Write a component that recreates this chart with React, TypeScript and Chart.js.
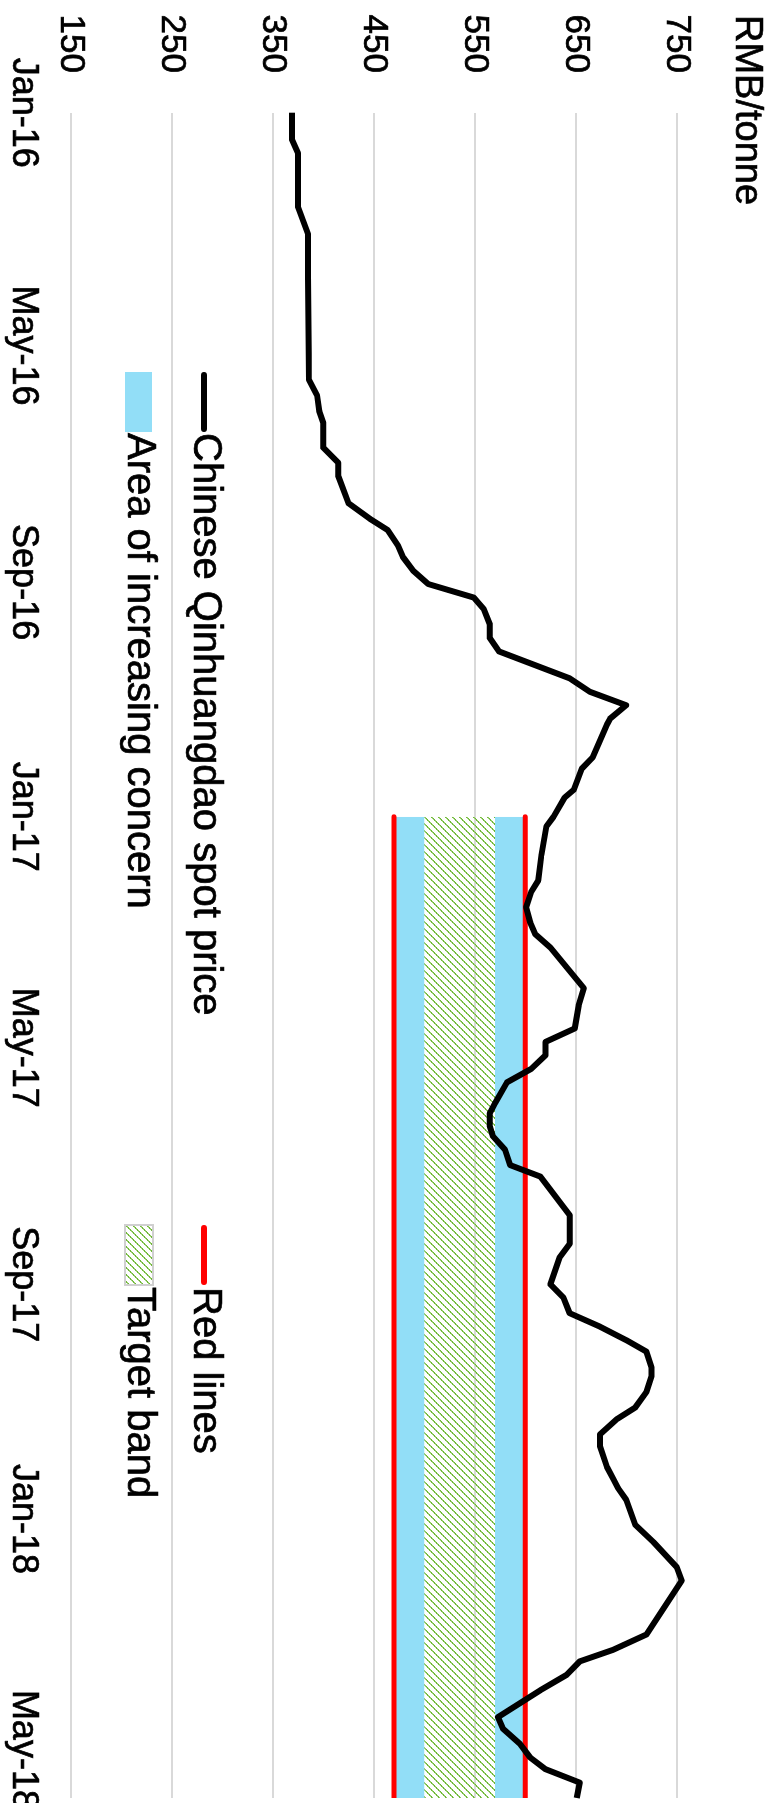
import React, { useEffect, useRef } from 'react';
import { Chart, registerables } from 'chart.js';

Chart.register(...registerables);

const FONT = '"Liberation Sans", Arial, Helvetica, sans-serif';

// x values are days since 1 Jan 2016
const priceDays = [
  0, 14, 21, 49, 63, 85, 139, 147, 155, 161, 174, 182, 189, 203, 211, 217, 225, 231, 238, 245,
  252, 258, 266, 273, 280, 294, 301, 308, 315, 318, 335, 341, 352, 356, 366, 371, 386, 399, 405, 413,
  421, 427, 434, 455, 464, 476, 483, 490, 497, 504, 515, 520, 527, 532, 539, 547, 553, 573, 588, 595,
  609, 616, 624, 631, 638, 644, 652, 657, 665, 673, 679, 687, 693, 704, 710, 715, 721, 734, 743, 756,
  763, 791, 799, 805, 812, 820, 834, 840, 848, 855, 861, 868, 876,
];
const spotPrice = [
  369, 369, 375, 375, 385, 385, 386, 394, 396, 400, 400, 415, 415, 425, 446, 464, 474, 479, 489, 504,
  549, 559, 565, 565, 574, 644, 664, 700, 684, 681, 667, 656, 648, 639, 628, 621, 616, 613, 606, 601,
  605, 610, 625, 658, 653, 649, 620, 620, 606, 582, 570, 565, 565, 568, 580, 585, 615, 644, 644, 634,
  625, 638, 644, 674, 700, 720, 725, 725, 720, 709, 691, 674, 674, 681, 687, 692, 700, 709, 727, 750,
  755, 720, 687, 654, 641, 615, 573, 578, 595, 605, 620, 654, 651,
];

const tickDays = [0, 121, 244, 366, 486, 609, 731, 851];
const tickLabels = ['Jan-16', 'May-16', 'Sep-16', 'Jan-17', 'May-17', 'Sep-17', 'Jan-18', 'May-18'];
const axisStartDay = 0;
const axisEndDay = 876;

const bandDays = [366, 876];
const redLineLow = 470;
const redLineHigh = 600;
const targetLow = 500;
const targetHigh = 570;

const valueMin = 150;
const valueMax = 750;
const valueStep = 100;

const seriesNames = [
  'Chinese Qinhuangdao spot price',
  'Red lines',
  'Area of increasing concern',
  'Target band',
];
const unitLabel = 'RMB/tonne';

const CW = 1860;
const CH = 777;

const BLUE = '#92DEF7';
const RED = '#FF0000';
const TEXT_STROKE = 0.7;

function makeHatch(): CanvasPattern | string {
  const n = 7;
  const tile = document.createElement('canvas');
  tile.width = n;
  tile.height = n;
  const t = tile.getContext('2d');
  if (!t) return '#9BD064';
  for (let i = 0; i < n; i++) {
    t.fillStyle = i % 2 === 0 ? '#6CB433' : '#8FCB5E';
    t.fillRect(i, n - 1 - i, 1, 1);
    t.fillStyle = i % 2 === 0 ? '#9AD170' : '#72B83C';
    t.fillRect(i, (n - i) % n, 1, 1);
  }
  const p = t.createPattern(tile, 'repeat');
  return p || '#9BD064';
}

export default function App() {
  const ref = useRef<HTMLCanvasElement>(null);

  useEffect(() => {
    if (!ref.current) return;
    const hatch = makeHatch();
    const pts = (ys: number[] | number, xs: number[]) =>
      xs.map((x, i) => ({ x, y: Array.isArray(ys) ? ys[i] : ys }));

    const label = (ctx: CanvasRenderingContext2D, s: string, x: number, y: number) => {
      ctx.fillText(s, x, y);
      ctx.strokeText(s, x, y);
    };

    const overlay = {
      id: 'overlay',
      afterDraw(chart: any) {
        const ctx = chart.ctx as CanvasRenderingContext2D;
        ctx.save();
        ctx.fillStyle = '#000';
        ctx.textAlign = 'left';
        ctx.textBaseline = 'alphabetic';
        ctx.font = `38px ${FONT}`;
        ctx.strokeStyle = '#000';
        ctx.lineWidth = TEXT_STROKE;
        label(ctx, unitLabel, 15, 41);

        ctx.font = `40px ${FONT}`;
        ctx.textBaseline = 'middle';
        const col1 = 372;
        const col2 = 1225;
        const row1 = 572;
        const row2 = 638;
        // line items
        ctx.lineCap = 'round';
        ctx.lineWidth = 6;
        ctx.strokeStyle = '#000';
        ctx.beginPath();
        ctx.moveTo(col1 + 3, row1 + 1);
        ctx.lineTo(col1 + 57, row1 + 1);
        ctx.stroke();
        ctx.strokeStyle = RED;
        ctx.beginPath();
        ctx.moveTo(col2 + 3, row1 + 1);
        ctx.lineTo(col2 + 57, row1 + 1);
        ctx.stroke();
        // box items
        ctx.fillStyle = BLUE;
        ctx.fillRect(col1, row2 - 13, 60, 27);
        ctx.fillStyle = hatch as any;
        ctx.fillRect(col2, row2 - 14, 60, 28);
        ctx.strokeStyle = '#D0D0D0';
        ctx.lineWidth = 2;
        ctx.strokeRect(col2, row2 - 14, 60, 28);
        // texts
        ctx.fillStyle = '#000';
        ctx.strokeStyle = '#000';
        ctx.lineWidth = TEXT_STROKE;
        label(ctx, seriesNames[0], col1 + 61, row1);
        label(ctx, seriesNames[1], col2 + 62, row1);
        label(ctx, seriesNames[2], col1 + 61, row2);
        label(ctx, seriesNames[3], col2 + 62, row2);
        ctx.restore();
      },
    };

    const chart = new Chart(ref.current, {
      type: 'line',
      data: {
        datasets: [
          {
            label: seriesNames[0],
            data: pts(spotPrice, priceDays),
            borderColor: '#000',
            borderWidth: 6,
            borderJoinStyle: 'round',
            pointRadius: 0,
            fill: false,
            clip: false,
          },
          {
            label: seriesNames[1],
            data: pts(redLineLow, bandDays),
            borderColor: RED,
            borderWidth: 5,
            borderCapStyle: 'round',
            pointRadius: 0,
            fill: false,
          },
          {
            label: seriesNames[1] + ' high',
            data: pts(redLineHigh, bandDays),
            borderColor: RED,
            borderWidth: 5,
            borderCapStyle: 'round',
            pointRadius: 0,
            fill: false,
          },
          {
            label: 'base',
            data: pts(redLineLow, bandDays),
            borderWidth: 0,
            borderColor: 'rgba(0,0,0,0)',
            pointRadius: 0,
            fill: false,
          },
          {
            label: seriesNames[2] + ' low',
            data: pts(targetLow, bandDays),
            borderWidth: 0,
            borderColor: 'rgba(0,0,0,0)',
            backgroundColor: BLUE,
            pointRadius: 0,
            fill: 3,
          },
          {
            label: seriesNames[3],
            data: pts(targetHigh, bandDays),
            borderWidth: 0,
            borderColor: 'rgba(0,0,0,0)',
            backgroundColor: hatch as any,
            pointRadius: 0,
            fill: 4,
          },
          {
            label: seriesNames[2] + ' high',
            data: pts(redLineHigh, bandDays),
            borderWidth: 0,
            borderColor: 'rgba(0,0,0,0)',
            backgroundColor: BLUE,
            pointRadius: 0,
            fill: 5,
          },
        ],
      },
      options: {
        responsive: false,
        animation: false,
        devicePixelRatio: 1,
        layout: { padding: { top: 100.3, left: 0, right: CW - 1798, bottom: 0 } },
        plugins: {
          legend: { display: false },
          tooltip: { enabled: false },
          title: { display: false },
        },
        elements: { point: { radius: 0 }, line: { tension: 0 } },
        scales: {
          x: {
            type: 'linear',
            min: axisStartDay,
            max: axisEndDay,
            grid: { display: false, drawTicks: false },
            border: { display: false },
            ticks: {
              autoSkip: false,
              maxRotation: 0,
              minRotation: 0,
              padding: 26,
              color: '#000',
              textStrokeColor: '#000',
              textStrokeWidth: TEXT_STROKE,
              font: { family: FONT, size: 36 },
              callback: (v: any) => {
                const i = tickDays.indexOf(Number(v));
                return i >= 0 ? tickLabels[i] : '';
              },
            },
            afterBuildTicks: (s: any) => {
              s.ticks = tickDays.map((v) => ({ value: v }));
            },
            afterFit: (s: any) => {
              s.height = 70.7;
            },
          },
          y: {
            type: 'linear',
            min: valueMin,
            max: valueMax,
            ticks: {
              stepSize: valueStep,
              padding: 39.7,
              color: '#000',
              textStrokeColor: '#000',
              textStrokeWidth: TEXT_STROKE,
              font: { family: FONT, size: 35 },
            },
            grid: { color: '#D9D9D9', lineWidth: 2, drawTicks: false },
            border: { display: false },
            afterFit: (s: any) => {
              s.width = 112.7;
            },
          },
        },
      },
      plugins: [overlay],
    } as any);

    return () => chart.destroy();
  }, []);

  return (
    <div
      style={{
        position: 'fixed',
        left: 0,
        top: 0,
        width: 777,
        height: 1803,
        overflow: 'hidden',
        background: '#fff',
      }}
    >
      <div
        style={{
          position: 'absolute',
          left: 0,
          top: 0,
          width: CW,
          height: CH,
          transformOrigin: '0 0',
          transform: 'translate(777px, 0px) rotate(90deg)',
        }}
      >
        <canvas
          ref={ref}
          width={CW}
          height={CH}
          style={{ width: CW, height: CH, display: 'block' }}
        />
      </div>
    </div>
  );
}
